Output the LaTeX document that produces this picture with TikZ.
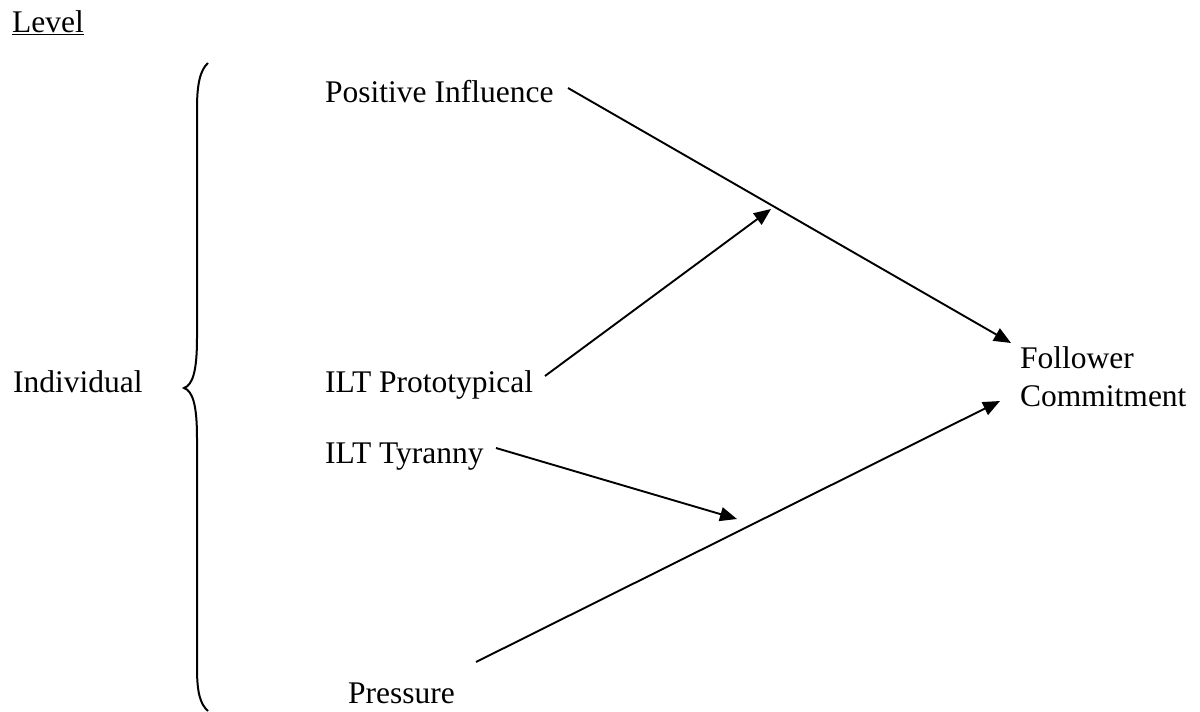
\documentclass[tikz,border=0pt]{standalone}
\usepackage{fontspec}
\setmainfont{Liberation Serif}
\usetikzlibrary{arrows.meta}
\tikzset{
  lbl/.style={anchor=base west, inner sep=0pt, font=\fontsize{31.5}{37.5}\selectfont},
  conn/.style={line width=1.9pt, line cap=butt},
  arr/.style={conn, -{Triangle[length=17pt,width=14pt]}}
}
\begin{document}
\begin{tikzpicture}[x=1pt,y=-1pt]
\useasboundingbox (0,0) rectangle (1200,712);
% labels
\node[lbl] (level) at (12,32) {\underline{Level}};
\node[lbl] (indiv) at (13,392) {Individual};
\node[lbl] (pi) at (325,102) {Positive Influence};
\node[lbl] (proto) at (325,392) {ILT Prototypical};
\node[lbl] (tyr) at (325,463) {ILT Tyranny};
\node[lbl] (press) at (348,703) {Pressure};
\node[lbl, anchor=north west, align=left] (fc) at (1020,346.5) {Follower\\Commitment};
% brace
\draw[line width=2pt] (208,63) .. controls (200,70) and (197,85) .. (197,108)
  -- (197,338) .. controls (197,370) and (193,385) .. (184,388)
  .. controls (193,391) and (197,406) .. (197,438)
  -- (197,668) .. controls (197,692) and (200,704) .. (208,711);
% connector end points
\coordinate (piS) at (568,88);
\coordinate (fcA) at (1011,343);
\coordinate (protoS) at (545,376);
\coordinate (modA) at (771,209);
\coordinate (tyrS) at (496,448);
\coordinate (modB) at (737,519);
\coordinate (pressS) at (476,662);
\coordinate (fcB) at (1000,401);
% connectors
\draw[arr] (piS) -- (fcA);
\draw[arr] (protoS) -- (modA);
\draw[arr] (tyrS) -- (modB);
\draw[arr] (pressS) -- (fcB);
\end{tikzpicture}
\end{document}
